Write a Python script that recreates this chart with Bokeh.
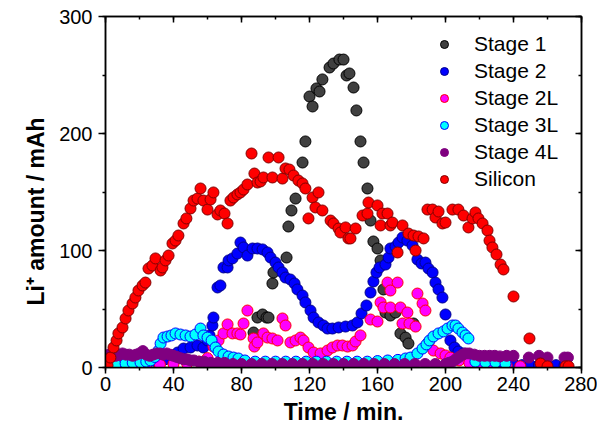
import math
from bokeh.plotting import figure
from bokeh.models import Range1d, LinearAxis, SingleIntervalTicker, Title, CustomJSTickFormatter
from bokeh.embed import file_html
from bokeh.resources import INLINE

# ---- data (time in min, Li+ amount in mAh) ----
s1_t = [87.1,89.4,92.4,94.7,95.9,98.2,98.8,106.5,107.6,109.4,111.8,115.9,117.6,120.0,121.8,124.1,125.9,127.6,131.8,134.1,
        137.6,140.0,141.8,143.5,145.9,147.6,150.0,151.8,154.1,155.9,157.6,160.0,161.8,163.5,164.7,167.6,170.6,173.5,176.5,178.2,181.2]
s1_v = [29.9,42.7,45.3,42.7,42.7,71.8,81.2,94.0,120.5,134.2,144.4,175.2,193.2,231.6,223.1,238.5,235.9,246.2,256.4,259.8,
        263.2,263.2,249.6,251.3,239.3,219.7,193.2,175.2,153.0,125.6,107.7,101.7,91.5,66.7,47.0,44.4,47.0,29.1,25.6,20.5,37.6]

s2_t = [0,5,10,15,20,25,30,35,39.4,42.4,45.9,50.0,54.1,57.6,60.0,61.2,62.9,63.5,65.9,67.6,
        69.4,71.8,72.4,74.7,77.6,79.4,81.2,83.5,86.5,89.4,92.4,95.3,97.1,100.0,101.8,104.1,105.9,108.8,111.2,112.9,
        115.9,117.6,120.6,122.4,125.3,128.2,130.6,133.5,137.1,141.2,145.3,148.2,150.6,153.5,155.9,157.6,159.4,161.2,164.7,166.5,
        167.6,170.6,172.4,174.7,177.6,180.6,183.5,185.9,188.2,190.0,192.4,194.1,195.9,198.2,200.0,202.9,205.3,207.6,210.6,
        214,218,222,226,230,235,240,245,250,255,260,265,270]
s2_v = [1,1.5,2,2.5,3,4,5,7,10.3,12.8,16.2,17.1,18.8,17.1,23.1,27.4,35.9,42.7,68.4,70.1,
        85.5,85.5,91.5,93.2,97.4,106.8,102.6,95.7,101.7,101.7,100.9,98.3,94.0,89.7,85.5,81.2,76.9,75.2,71.8,66.7,
        61.5,55.6,48.7,42.7,38.5,35.9,33.3,33.3,34.2,35.0,35.9,38.5,46.2,53.0,64.1,73.5,81.2,85.5,88.0,94.0,
        101.7,103.4,106.8,111.1,108.5,104.3,92.3,88.9,89.7,84.6,81.2,72.6,66.7,59.8,45.3,23.1,17.1,13.7,12.0,
        9,7,6,5,4,3,3,2,2,2,2,2,2]

s2l_t = [0,8,16,24,32,40,48,55,60,63.5,66.5,69.4,71.8,74.7,77.6,79.4,81.2,83.5,87.1,87.6,
         89.4,92.9,95.3,98.2,101.2,104.1,105.9,108.8,111.8,114.7,116.5,119.4,122.4,126.5,130.6,133.5,136.5,139.4,142.4,145.3,
         147.1,150.0,155.9,160.0,161.8,163.5,165.9,167.6,167.6,171.8,173.5,174.7,177.6,178.8,182.4,183.5,186.5,188.2,190.0,192.9,
         197.1,200.0,202.9,208,214,220,228,236,244]
s2l_v = [1,1.5,2,2,2.5,3,3.5,5,8,17.9,23.1,29.1,36.8,29.1,29.1,28.2,37.6,48.7,24.8,17.9,
         21.4,29.1,25.6,24.8,23.1,41.9,35.9,21.4,23.1,25.6,23.1,17.1,12.8,12.0,14.5,17.1,18.8,18.8,17.9,18.8,
         22.2,27.4,41.0,39.3,55.6,51.3,72.6,65.8,51.3,72.6,51.3,37.6,47.0,37.6,35.0,63.2,54.7,48.7,21.4,14.5,
         12.0,10.3,8.5,6,4,3,2,1.5,1]

s3l_t = [1.2,5.9,11.8,16,20.6,24,26.5,29,31.2,32.4,34.1,36.5,38.8,41.2,44.1,47.1,50.0,52.9,55.9,57.6,
         60.0,62.4,64.7,66.5,69.4,72.4,75.3,78.2,82,88,94,100,106,112,118,124,130,136,142,148,
         154,160,166,172,176.5,179.4,183.5,186.5,188.8,190.6,192.9,195.9,198.8,201.2,204.1,205.9,207.6,210.0,211.8,213.5,
         217.6,223.5,229.4,235.3]
s3l_v = [1,2.6,3.4,4,4.3,5,6,9,14.5,20.5,25.6,26.5,27.4,29.1,28.2,27.4,26.5,28.2,33.3,27.4,
         25.6,23.1,17.1,13.7,11.1,9.4,8.5,7.7,6,5,5,5,5,5,5,5,5,5,5,5,
         5,5.5,6,6.5,7.7,8.5,12.0,16.2,19.7,23.1,26.5,29.1,30.8,33.3,35.9,35.9,33.3,29.9,27.4,24.8,
         5,4.3,4.3,3.4]

s4l_t = [0.5,2,4,6,8,10,12,14,16,18,20,22,24,26,28,30,32,34,36,38,
         40,42,44,46,48,50,52,55,58,62,66,70,75,80,86,92,98,104,110,116,
         122,128,134,140,146,152,158,164,170,176,182,188,194,200,202,204,206,208,210,212,
         214,217,220,223,226,229,232,236,240,249,255,260,270,272]
s4l_v = [8,11,10,10,11,12,11,11,10,11,12,14,11,10,11,12,12,11,12,11,
         10,9,8,7,7,6,6,5,5,4,4,4,3,3,3,3,3,3,3,3,
         3,3,3,3,3,3,3,3,3,3,3,3,3,3,4,5,7,9,11,12,
         12,11,10,10,10,10,9.5,10,10,8.5,10,8.5,8.5,8.5]

si_t = [1.2,2.9,4.7,6.5,7.6,10.0,11.8,13.5,15.9,17.6,19.4,21.8,23.5,25.3,27.6,29.4,32.4,33.5,35.3,37.1,
        39.4,41.2,42.9,45.9,47.6,50.0,51.8,54.1,55.9,57.6,60.0,61.8,63.5,65.9,67.6,70.0,71.8,73.5,75.3,77.6,
        79.4,81.2,83.5,85.9,87.6,89.4,91.2,92.9,95.9,98.2,101.8,104.1,105.9,108.2,110.6,113.5,115.9,117.6,119.4,121.8,
        123.5,125.3,127.6,132.4,134.1,137.1,138.2,141.2,142.9,144.1,147.1,151.2,154.1,154.7,160.0,161.8,162.9,165.9,167.6,168.8,
        171.8,174.7,178.2,181.2,182.4,184.1,187.1,189.4,192.4,194.1,195.9,198.2,200.0,204.1,207.6,210.6,213.5,215.9,217.6,219.4,
        221.8,224.7,225.9,227.6,230.0,232.4,234.1,240.0,249.4,255.9,260.0,270.6,272.4]
si_v = [1.7,8.5,17.1,23.1,29.1,34.2,41.9,48.7,54.7,59.8,65.8,70.1,72.6,84.6,87.2,93.2,82.9,85.5,91.5,95.7,
        106.0,108.5,112.8,123.1,127.4,135.9,142.7,144.4,153.0,142.7,135.0,143.6,149.6,130.8,134.2,131.6,123.1,142.7,145.3,147.9,
        149.6,152.1,156.4,182.9,165.8,158.1,159.0,162.4,179.5,162.4,179.5,161.5,170.1,169.2,164.1,159.8,157.3,153.0,127.4,145.3,
        136.8,149.6,134.2,125.6,123.1,118.8,115.4,119.7,110.3,110.3,118.8,129.9,131.6,141.0,138.5,121.4,131.6,131.6,121.4,123.9,
        98.3,121.4,114.5,112.8,100.0,112.0,110.3,135.0,135.0,128.2,133.3,123.1,123.9,135.0,135.0,129.9,119.7,127.4,132.5,127.4,
        123.1,117.1,108.5,102.6,96.6,88.0,83.8,60.7,24.8,3.4,1.0,1.0,1.0]

x_ticks_interval = 40
y_ticks_interval = 100

FONT = "Liberation Sans"

p = figure(width=597, height=433, output_backend="svg", toolbar_location=None,
           x_range=Range1d(0, 280), y_range=Range1d(0, 300),
           x_axis_location=None, y_axis_location=None,
           min_border_left=105, min_border_right=16, min_border_top=16, min_border_bottom=66)
p.grid.visible = False
p.outline_line_color = "black"
p.outline_line_width = 1.5
p.background_fill_color = "white"
p.border_fill_color = "white"

def make_axis(interval, labels=True, inner=False, tick_out=6, standoff=3):
    ax = LinearAxis(ticker=SingleIntervalTicker(interval=interval, num_minor_ticks=2))
    ax.axis_line_width = 1.5
    ax.axis_line_color = "black"
    ax.major_tick_line_color = "black"
    ax.minor_tick_line_color = "black"
    ax.major_tick_line_width = 1.5
    ax.minor_tick_line_width = 1.5
    if inner:
        ax.major_tick_in, ax.major_tick_out = 6, 0
        ax.minor_tick_in, ax.minor_tick_out = 3, 0
    else:
        ax.major_tick_in, ax.major_tick_out = 0, tick_out
        ax.minor_tick_in, ax.minor_tick_out = 0, tick_out // 2
    if labels:
        ax.major_label_text_font = FONT
        ax.major_label_text_font_size = "20px"
        ax.major_label_text_color = "black"
        ax.major_label_standoff = standoff
    else:
        ax.formatter = CustomJSTickFormatter(code="return ''")
        ax.major_label_text_font_size = "1px"
        ax.major_label_standoff = 0
    return ax

xb = make_axis(x_ticks_interval, tick_out=6, standoff=3)
xb.axis_label = "Time / min."
xb.axis_label_text_font = FONT
xb.axis_label_text_font_style = "bold"
xb.axis_label_text_font_size = "23px"
xb.axis_label_text_color = "black"
xb.axis_label_standoff = 5
p.add_layout(xb, "below")
p.add_layout(make_axis(y_ticks_interval, tick_out=7, standoff=6), "left")
p.add_layout(make_axis(x_ticks_interval, labels=False, inner=True), "above")
p.add_layout(make_axis(y_ticks_interval, labels=False, inner=True), "right")

# y-axis title as a vertical title in the left panel
ytitle = Title(text="Li\u207a amount / mAh", align="left", offset=62, standoff=16,
               text_font=FONT, text_font_style="bold", text_font_size="23px", text_color="black")
p.add_layout(ytitle, "left")

series = [
    ("Stage 1", s1_t, s1_v, "#404040", "#000000"),
    ("Stage 2", s2_t, s2_v, "#0000FF", "#00008B"),
    ("Stage 2L", s2l_t, s2l_v, "#FF00FF", "#FF0000"),
    ("Stage 3L", s3l_t, s3l_v, "#00FFFF", "#0000FF"),
    ("Stage 4L", s4l_t, s4l_v, "#800080", "#800080"),
    ("Silicon", si_t, si_v, "#FF0000", "#800000"),
]
for name, t, v, fc, lc in series:
    assert len(t) == len(v), name
    p.scatter(t, v, size=11, fill_color=fc, line_color=lc, line_width=1, legend_label=name)

lg = p.legend[0]
lg.location = (329, 176)
lg.padding = 0
lg.margin = 0
lg.spacing = 3
lg.glyph_width = 20
lg.glyph_height = 24
lg.label_height = 24
lg.label_standoff = 20
lg.label_text_font = FONT
lg.label_text_font_size = "21px"
lg.label_text_color = "black"
lg.background_fill_alpha = 0
lg.border_line_alpha = 0

open("out.html", "w").write(file_html(p, INLINE))
